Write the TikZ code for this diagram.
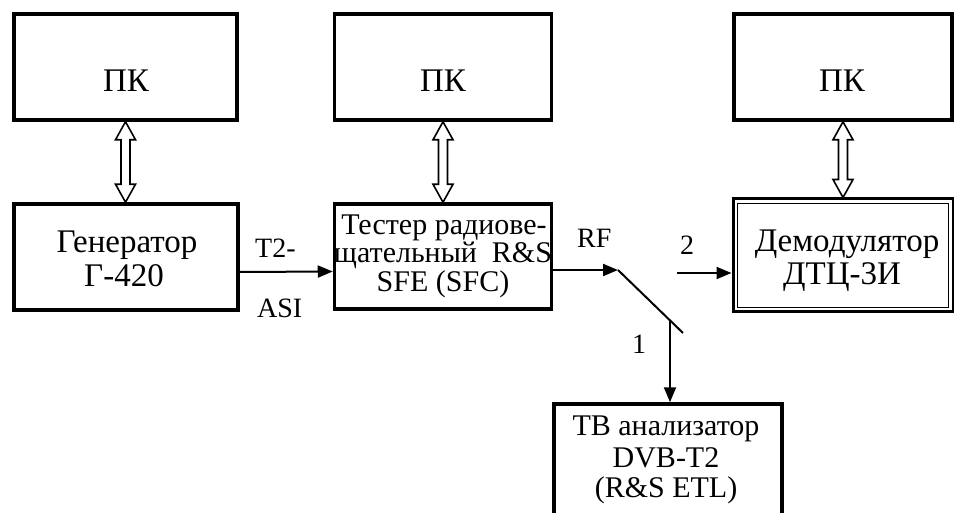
\documentclass[tikz,border=0pt]{standalone}
\usepackage{fontspec}
\setmainfont{Liberation Serif}
\usetikzlibrary{arrows.meta,calc}
\newcommand\dblarr[2]{%
  \draw[bus] let \p1=(#1.south), \p2=(#2.north) in
    (\x1,\y1) -- (\x1+10pt,\y1-18pt) -- (\x1+4.5pt,\y1-18pt) -- (\x1+4.5pt,\y2+18pt)
    -- (\x1+10pt,\y2+18pt) -- (\x1,\y2) -- (\x1-10pt,\y2+18pt) -- (\x1-4.5pt,\y2+18pt)
    -- (\x1-4.5pt,\y1-18pt) -- (\x1-10pt,\y1-18pt) -- cycle;}
\begin{document}
\begin{tikzpicture}[x=1pt,y=-1pt,
  box/.style={draw,line width=3.5pt,inner sep=0pt},
  big/.style={font=\fontsize{33}{35}\selectfont,inner sep=0pt,anchor=base},
  mid/.style={font=\fontsize{30}{31}\selectfont,inner sep=0pt,anchor=base},
  lbl/.style={font=\fontsize{28}{30}\selectfont,inner sep=0pt,anchor=base west},
  sig/.style={line width=2pt,-{Triangle[length=15pt,width=12pt]}},
  wire/.style={line width=2pt},
  bus/.style={line width=1.6pt,line join=miter}]
\useasboundingbox (0,0) rectangle (954,513);
% boxes
\node[box,minimum width=223pt,minimum height=106pt] (pk1) at (125.5,67) {};
\node[box,minimum width=224pt,minimum height=106pt] (gen) at (126,257) {};
\node[box,minimum width=217pt,minimum height=106pt] (pk2) at (443,67) {};
\node[box,minimum width=217pt,minimum height=105pt] (tst) at (443,256.5) {};
\node[box,minimum width=218pt,minimum height=106pt] (pk3) at (843,67) {};
\node[draw,line width=3pt,inner sep=0pt,minimum width=220pt,minimum height=113pt] (dem) at (843,255.5) {};
\draw[line width=1.5pt] ([shift={(6,6)}]dem.north west) rectangle ([shift={(-6,-6)}]dem.south east);
\node[box,minimum width=228pt,minimum height=112pt] (tv) at (668,460) {};
% texts
\node[big] (t1) at (126,92) {ПК};
\node[big] (t2) at (443,92) {ПК};
\node[big] (t3) at (842,92) {ПК};
\node[big] (g1) at (127,253) {Генератор};
\node[big] (g2) at (124,287) {Г-420};
\node[mid] (s1) at (444,235) {Тестер радиове-};
\node[mid] (s2) at (443,263) {щательный\ \ R\&S};
\node[mid] (s3) at (443,292) {SFE (SFC)};
\node[big] (d1) at (847,252) {Демодулятор};
\node[big] (d2) at (842,285) {ДТЦ-3И};
\node[mid] (v1) at (666,435) {ТВ анализатор};
\node[mid] (v2) at (666,467) {DVB-T2};
\node[mid] (v3) at (666,497) {(R\&S ETL)};
% labels
\node[lbl] (lt2) at (255,258) {T2-};
\node[lbl] (lasi) at (257,318) {ASI};
\node[lbl] (lrf) at (577,248) {RF};
\node[lbl] (l2) at (680,255) {2};
\node[lbl] (l1) at (632,353) {1};
% bus arrows
\dblarr{pk1}{gen}
\dblarr{pk2}{tst}
\dblarr{pk3}{dem}
% switch
\coordinate (sA) at (618,270);
\coordinate (sB) at (683,333);
\coordinate (sC) at (670,320.4);
\coordinate (c2) at (677,273);
\draw[wire] (sA) -- (sB);
\draw[sig] ([yshift=-15pt]gen.east) -- ([yshift=-15pt]tst.west);
\draw[sig] (tst.east |- sA) -- (sA);
\draw[sig] (c2) -- (c2 -| dem.west);
\draw[sig] (sC) -- (sC |- tv.north);
\end{tikzpicture}
\end{document}
